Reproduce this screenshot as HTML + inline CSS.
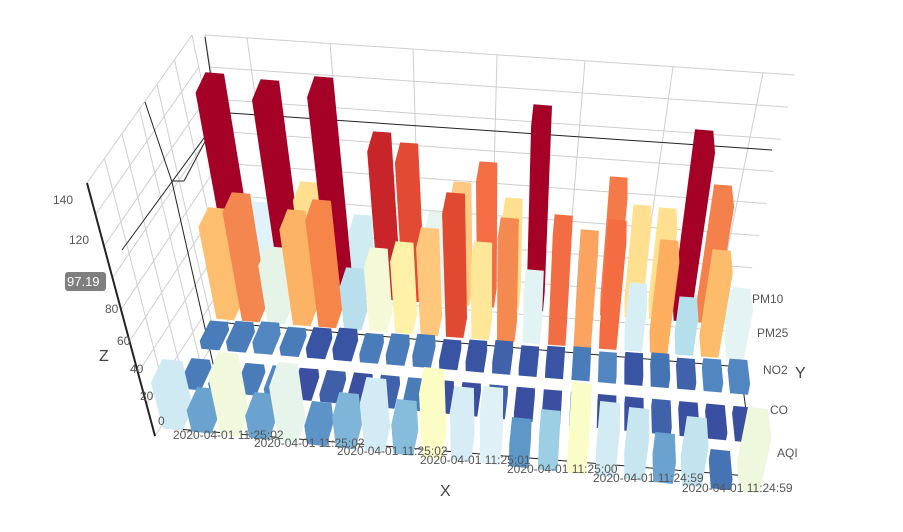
<!DOCTYPE html>
<html><head><meta charset="utf-8">
<style>
html,body{margin:0;padding:0;background:#fff;}
svg{display:block;font-family:"Liberation Sans",sans-serif;}
.t{font-size:12px;fill:#555;}
</style></head>
<body>
<svg id="s" width="903" height="532" viewBox="0 0 903 532" xmlns="http://www.w3.org/2000/svg">
<g id="grid" stroke="#cfcfcf" stroke-width="1" fill="none"></g>
<g id="axes" stroke="#222" stroke-width="1" fill="none">
<line x1="122" y1="250" x2="215" y2="123"/>
<line x1="215" y1="112" x2="772" y2="150"/>
<line x1="145" y1="102" x2="172" y2="182"/>
<line x1="172" y1="182" x2="228" y2="430"/>
<line x1="205" y1="37" x2="216" y2="112"/>
<line x1="172" y1="181" x2="184" y2="181"/>
<line x1="184" y1="181" x2="215" y2="123"/>
<line x1="215" y1="322" x2="740" y2="367"/>
<line x1="165" y1="428" x2="748" y2="476"/>
<line x1="738" y1="350" x2="747" y2="418"/>
<line x1="155" y1="436" x2="87" y2="183" stroke-width="2"/>
</g>
<g id="bars"></g>
<g>
<text class="t" x="53" y="204">140</text>
<text class="t" x="69" y="244">120</text>
<text class="t" x="85" y="282">100</text>
<rect x="65" y="272" width="41" height="19" rx="3" fill="#7f7f7f"/>
<text x="67" y="286" font-size="13" fill="#fff">97.19</text>
<text class="t" x="105" y="313">80</text>
<text class="t" x="117" y="345">60</text>
<text class="t" x="130" y="373">40</text>
<text class="t" x="140" y="400">20</text>
<text class="t" x="158" y="425">0</text>
<text x="99" y="361" font-size="16" fill="#444">Z</text>
<text class="t" x="173" y="439">2020-04-01 11:25:02</text>
<text class="t" x="254" y="447">2020-04-01 11:25:02</text>
<text class="t" x="337" y="455">2020-04-01 11:25:02</text>
<text class="t" x="420" y="464">2020-04-01 11:25:01</text>
<text class="t" x="507" y="473">2020-04-01 11:25:00</text>
<text class="t" x="593" y="482">2020-04-01 11:24:59</text>
<text class="t" x="682" y="492">2020-04-01 11:24:59</text>
<text x="440" y="496" font-size="16" fill="#444">X</text>
<text class="t" x="752" y="303">PM10</text>
<text class="t" x="757" y="337">PM25</text>
<text class="t" x="763" y="374">NO2</text>
<text class="t" x="770" y="414">CO</text>
<text class="t" x="777" y="457">AQI</text>
<text x="795" y="378" font-size="16" fill="#444">Y</text>
</g>
</svg>
<script>
(function(){
var NS="http://www.w3.org/2000/svg";
function el(p,tag,a){var e=document.createElementNS(NS,tag);for(var k in a)e.setAttribute(k,a[k]);p.appendChild(e);return e;}
var grid=document.getElementById('grid');
function lerp(a,b,t){return [a[0]+(b[0]-a[0])*t,a[1]+(b[1]-a[1])*t];}
var BTL=[205,35],BTR=[795,75],BBL=[248,292],BBR=[738,332];
var tops=[205,247,330,413,497,585,673,763];
tops.forEach(function(x){var t=(x-205)/(795-205);var a=lerp(BTL,BTR,t),b=lerp(BBL,BBR,t);
 el(grid,'line',{x1:a[0],y1:a[1],x2:b[0],y2:b[1]});});
for(var i=0;i<=8;i++){var t=i/8;var a=lerp(BTL,BBL,t),b=lerp(BTR,BBR,t);
 el(grid,'line',{x1:a[0],y1:a[1],x2:b[0],y2:b[1]});}
var LTB=[192,35],LTF=[87,183],LBF=[155,436],LBB=[246,292];
for(var i=0;i<=6;i++){var t=i/6;var a=lerp(LTB,LTF,t),b=lerp(LBB,LBF,t);
 el(grid,'line',{x1:a[0],y1:a[1],x2:b[0],y2:b[1]});}
for(var i=0;i<=8;i++){var t=i/8;var a=lerp(LTB,LBB,t),b=lerp(LTF,LBF,t);
 el(grid,'line',{x1:a[0],y1:a[1],x2:b[0],y2:b[1]});}

var V=[490,1700],H=860;
var L=[[178,418],[196,380],[214,342],[230,310],[244,280]];
var R=[[748,478],[743,430],[738,385],[734,348],[730,315]];
function floor(u,v){var vi=Math.floor(v);if(vi<0)vi=0;if(vi>3)vi=3;var t=v-vi;
 var lp=lerp(L[vi],L[vi+1],t),rp=lerp(R[vi],R[vi+1],t);return lerp(lp,rp,u/20);}
function up(f,z){var k=H/(H-z);return [V[0]+(f[0]-V[0])*k,V[1]+(f[1]-V[1])*k];}
function hull(p){p=p.slice().sort(function(a,b){return a[0]-b[0]||a[1]-b[1];});
 function cr(o,a,b){return (a[0]-o[0])*(b[1]-o[1])-(a[1]-o[1])*(b[0]-o[0]);}
 var lo=[],hi=[];p.forEach(function(q){while(lo.length>=2&&cr(lo[lo.length-2],lo[lo.length-1],q)<=0)lo.pop();lo.push(q);});
 for(var i=p.length-1;i>=0;i--){var q=p[i];while(hi.length>=2&&cr(hi[hi.length-2],hi[hi.length-1],q)<=0)hi.pop();hi.push(q);}
 lo.pop();hi.pop();return lo.concat(hi);}
var du=0.34,dv=0.3;
var bars=document.getElementById('bars');
function bar(u,v,topY,z,col,dvv){
 var d2=dvv||dv;
 if(z==null){var f=floor(u,v+d2);var k=(V[1]-topY)/(V[1]-f[1]);z=H*(1-1/k);}
 var pts=[];[[-du,-d2],[du,-d2],[du,d2],[-du,d2]].forEach(function(d){var f=floor(u+d[0],v+d[1]);pts.push(f);pts.push(up(f,z));});
 var h=hull(pts);el(bars,'polygon',{points:h.map(function(q){return q[0].toFixed(1)+','+q[1].toFixed(1);}).join(' '),fill:col});}
var pm10=[[73,'#a50026'],[202,'#e0f3f8'],[80,'#a50026'],[182,'#fee090'],[77,'#a50026'],[215,'#d1ebf2'],[132,'#c8252a'],[143,'#e34a33'],[212,'#e6f5f0'],[182,'#fec980'],[162,'#f46d43'],[198,'#fee090'],[105,'#a50026'],[228,'#e0f3f8'],[252,'#74add1'],[177,'#f57a4a'],[205,'#fee090'],[208,'#fee090'],[130,'#a50026'],[185,'#f4804b'],[290,'#e4f4f5']];
var pm25=[[208,'#fdbf6f'],[193,'#f4874f'],[247,'#e5f4e6'],[210,'#fdb366'],[200,'#f58549'],[268,'#b8dfeb'],[248,'#f5f9d8'],[242,'#fff1a8'],[228,'#fec77b'],[193,'#e04a30'],[242,'#ffe79a'],[218,'#f58a50'],[270,'#e2f3f3'],[215,'#f26d43'],[230,'#fba35f'],[220,'#f36c42'],[283,'#d6eef4'],[240,'#fdaf5f'],[297,'#b5dfeb'],[250,'#fdbc6c'],[288,'#e4f4f5']];
var no2c=['#4a7cb9','#4a7cb9','#5286c0','#4a7cb9','#3a54a4','#3a54a4','#4a7cb9','#4a7cb9','#4a7cb9','#3a54a4','#3a54a4','#3f62ab','#3a54a4','#3a54a4','#4a7cb9','#5286c0','#3a54a4','#4474b4','#3f62ab','#5286c0','#5286c0'];
var coc=['#4a7cb9','#5286c0','#4a7cb9','#5286c0','#3a4fa0','#3f5fa8','#3a4fa0','#3f62ab','#4a7cb9','#3a4fa0','#3a4fa0','#3f5fa8','#3a4fa0','#3a4fa0','#4a7cb9','#3a4fa0','#3a4fa0','#3f62ab','#3a4fa0','#3a4fa0','#3a4fa0'];
var aqi=[[360,'#d0eaf3'],[388,'#6aa3cf'],[353,'#f1f8dc'],[393,'#6aa3cf'],[363,'#e6f4ec'],[402,'#5c94c8'],[393,'#7fb5d9'],[378,'#d3ebf4'],[400,'#86bcdc'],[368,'#fcfdc5'],[387,'#d7edf5'],[387,'#dff1f7'],[418,'#5e98c9'],[410,'#9ccfe3'],[383,'#fbfdc8'],[402,'#d3ebf3'],[408,'#c8e6f0'],[433,'#6aa3cf'],[417,'#c3e4ef'],[450,'#4574b4'],[408,'#eff7dd']];
var i;
for(i=0;i<21;i++)bar(i,4,pm10[i][0],null,pm10[i][1]);
for(i=0;i<21;i++)bar(i,3,pm25[i][0],null,pm25[i][1]);
for(i=0;i<21;i++)bar(i,2.1,0,5+(i*7%3),no2c[i],0.3);
for(i=0;i<21;i++)bar(i,1.05,0,5+(i*3%3),coc[i],0.3);
for(i=0;i<21;i++)bar(i,0,aqi[i][0],null,aqi[i][1]);
})();
</script>
</body></html>
